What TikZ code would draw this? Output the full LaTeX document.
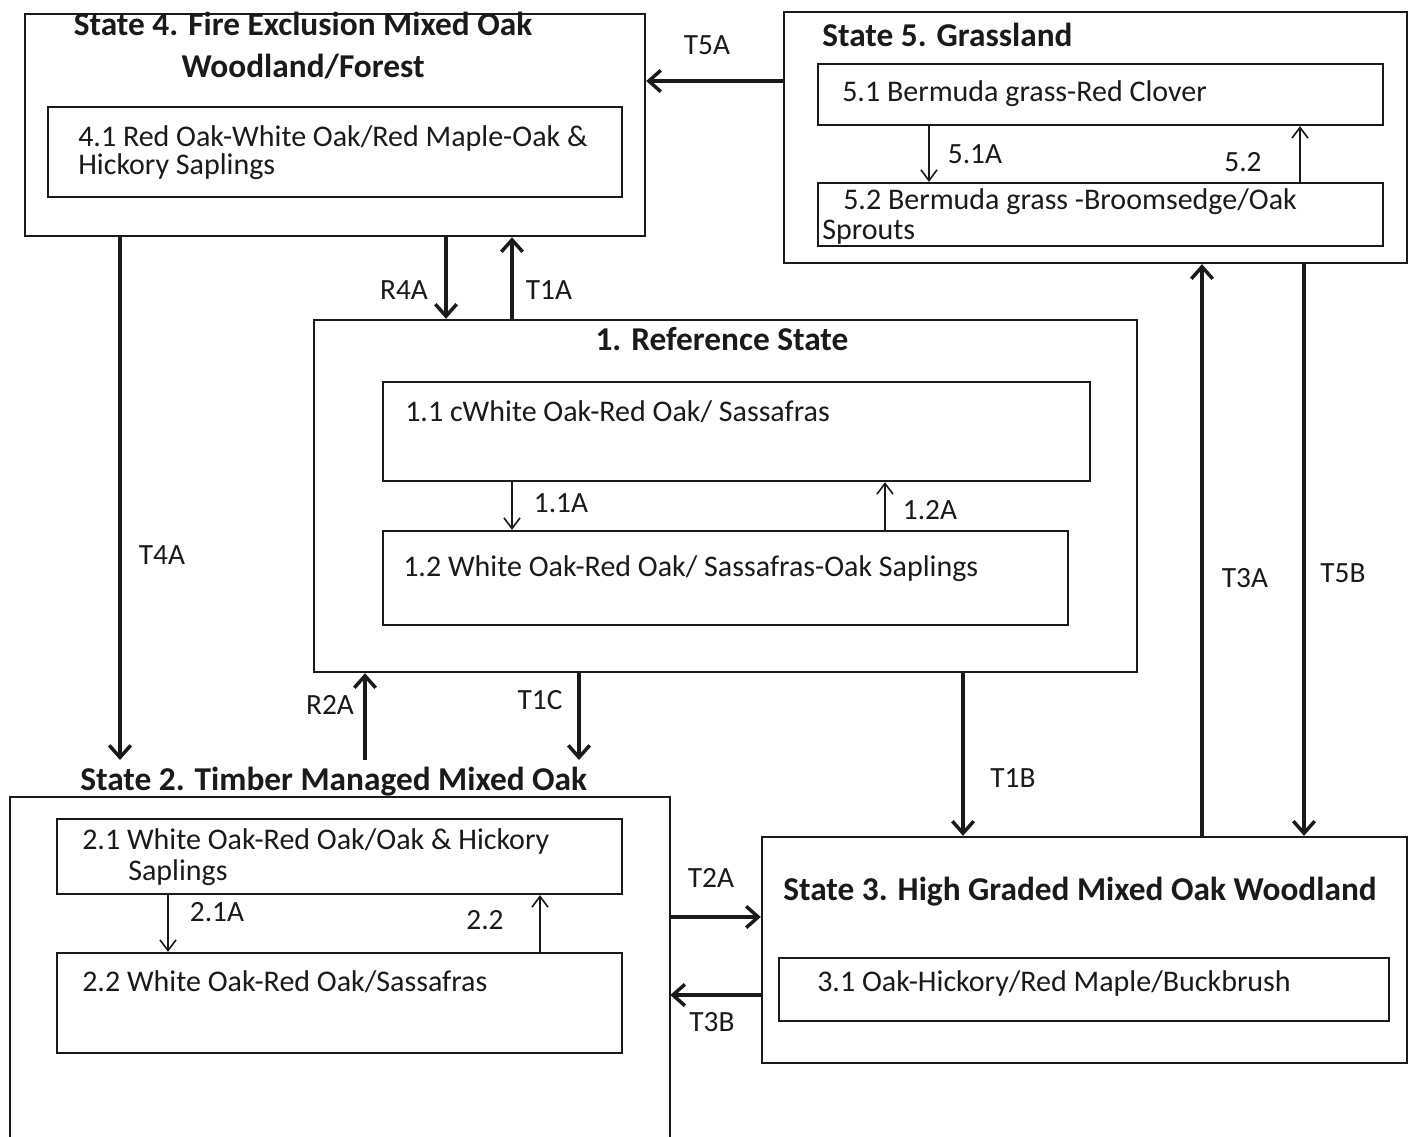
\documentclass[tikz,border=0pt]{standalone}
\usepackage{fontspec}
\setmainfont{Carlito}
\usetikzlibrary{arrows.meta,fit}
\definecolor{ink}{HTML}{1A1A1A}
\begin{document}
\begin{tikzpicture}[x=0.75pt,y=-0.75pt,
  box/.style={draw=ink,line width=1.8pt,inner sep=0pt},
  ibox/.style={draw=ink,line width=1.7pt,inner sep=0pt},
  big/.style={draw=ink,line width=2.6pt,-{Straight Barb[length=9pt,width=16pt]}},
  small/.style={draw=ink,line width=1.2pt,-{Straight Barb[length=8pt,width=12pt]}},
  ttl/.style={text=ink,font=\fontsize{25}{29}\selectfont\bfseries,inner sep=0pt},
  body/.style={text=ink,font=\fontsize{22.5}{26}\selectfont,inner sep=0pt},
  lbl/.style={text=ink,font=\fontsize{22}{25}\selectfont,inner sep=0pt}]
\clip (0,0) rectangle (1409,1137);
\fill[white] (0,0) rectangle (1409,1137);

% State 4
\node[box,fit={(25,14) (645,236)}] (s4) {};
\node[ibox,fit={(48,107) (622,197)}] (s41) {};
\node[ttl,anchor=base] (s4t1) at (303,36) {State 4. Fire Exclusion Mixed Oak};
\node[ttl,anchor=base] (s4t2) at (303,78) {Woodland/Forest};
\node[body,anchor=base west] (t41a) at (78,147) {4.1 Red Oak-White Oak/Red Maple-Oak \&};
\node[body,anchor=base west] (t41b) at (78,175) {Hickory Saplings};

% State 5
\node[box,fit={(784,12) (1407,263)}] (s5) {};
\node[ibox,fit={(818,64) (1383,125)}] (s51) {};
\node[ibox,fit={(818,183) (1383,246)}] (s52) {};
\node[ttl,anchor=base west] (s5t) at (822,47) {State 5. Grassland};
\node[body,anchor=base west] (t51) at (842,102) {5.1 Bermuda grass-Red Clover};
\node[body,anchor=base west] (t52a) at (843,210) {5.2 Bermuda grass -Broomsedge/Oak};
\node[body,anchor=base west] (t52b) at (822,240) {Sprouts};
\draw[small] (s51.south -| 929,0) -- (s52.north -| 929,0);
\draw[small] (s52.north -| 1300,0) -- (s51.south -| 1300,0);
\node[lbl] (l51a) at (975,154) {5.1A};
\node[lbl] (l52) at (1243,162) {5.2};

% State 1
\node[box,fit={(314,320) (1137,672)}] (s1) {};
\node[ibox,fit={(383,382) (1090,481)}] (s11) {};
\node[ibox,fit={(383,531) (1068,625)}] (s12) {};
\node[ttl,anchor=base] (s1t) at (722,350) {1. Reference State};
\node[body,anchor=base west] (t11) at (405,421) {1.1 cWhite Oak-Red Oak/ Sassafras};
\node[body,anchor=base west] (t12) at (403,576) {1.2 White Oak-Red Oak/ Sassafras-Oak Saplings};
\draw[small] (s11.south -| 512,0) -- (s12.north -| 512,0);
\draw[small] (s12.north -| 885,0) -- (s11.south -| 885,0);
\node[lbl] (l11a) at (561,503) {1.1A};
\node[lbl] (l12a) at (930,510) {1.2A};

% State 2
\node[fit={(10,797) (670,1150)},inner sep=0pt] (s2) {};
\draw[ink,line width=1.8pt] (s2.south west) -- (s2.north west) -- (s2.north east) -- (s2.south east);
\node[ibox,fit={(57,819) (622,894)}] (s21) {};
\node[ibox,fit={(57,953) (622,1053)}] (s22) {};
\node[ttl,anchor=base west] (s2t) at (80,790) {State 2. Timber Managed Mixed Oak};
\node[body,anchor=base west] (t21a) at (82,849) {2.1 White Oak-Red Oak/Oak \& Hickory};
\node[body,anchor=base west] (t21b) at (128,880) {Saplings};
\node[body,anchor=base west] (t22) at (82,991) {2.2 White Oak-Red Oak/Sassafras};
\draw[small] (s21.south -| 168,0) -- (s22.north -| 168,0);
\draw[small] (s22.north -| 540,0) -- (s21.south -| 540,0);
\node[lbl] (l21a) at (217,912) {2.1A};
\node[lbl] (l22) at (485,920) {2.2};

% State 3
\node[box,fit={(762,837) (1407,1063)}] (s3) {};
\node[ibox,fit={(779,958) (1389,1021)}] (s31) {};
\node[ttl,anchor=base west] (s3t) at (783,900) {State 3. High Graded Mixed Oak Woodland};
\node[body,anchor=base west] (t31) at (817,991) {3.1 Oak-Hickory/Red Maple/Buckbrush};

% Transitions
\coordinate (s2top) at (0,760);
\draw[big] (s5.west |- 0,81) -- (s4.east |- 0,81);
\node[lbl] (lt5a) at (707,45) {T5A};
\draw[big] (s4.south -| 446,0) -- (s1.north -| 446,0);
\node[lbl] (lr4a) at (404,290) {R4A};
\draw[big] (s1.north -| 512,0) -- (s4.south -| 512,0);
\node[lbl] (lt1a) at (549,290) {T1A};
\draw[big] (s4.south -| 120,0) -- (s2top -| 120,0);
\node[lbl] (lt4a) at (162,555) {T4A};
\draw[big] (s2top -| 365,0) -- (s1.south -| 365,0);
\node[lbl] (lr2a) at (330,705) {R2A};
\draw[big] (s1.south -| 579,0) -- (s2top -| 579,0);
\node[lbl] (lt1c) at (540,700) {T1C};
\draw[big] (s1.south -| 963,0) -- (s3.north -| 963,0);
\node[lbl] (lt1b) at (1013,778) {T1B};
\draw[big] (s3.north -| 1202,0) -- (s5.south -| 1202,0);
\node[lbl] (lt3a) at (1245,578) {T3A};
\draw[big] (s5.south -| 1304,0) -- (s3.north -| 1304,0);
\node[lbl] (lt5b) at (1343,573) {T5B};
\draw[big] (s2.east |- 0,917) -- (s3.west |- 0,917);
\node[lbl] (lt2a) at (711,878) {T2A};
\draw[big] (s3.west |- 0,995) -- (s2.east |- 0,995);
\node[lbl] (lt3b) at (712,1022) {T3B};
\end{tikzpicture}
\end{document}
